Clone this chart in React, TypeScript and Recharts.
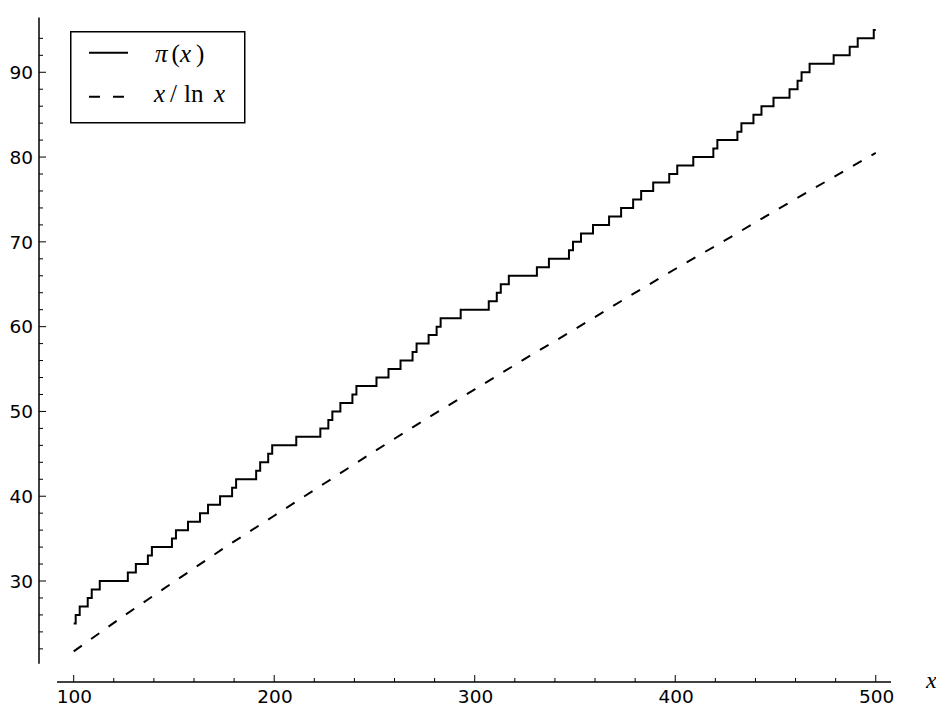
import React from "react";
import { LineChart, Line, XAxis, YAxis, ReferenceLine, Legend, Label } from "recharts";

// pi(x): value jumps at each prime between 100 and 500
const piX = [
  100, 101, 103, 107, 109, 113, 127, 131, 137, 139, 149, 151, 157, 163, 167, 173, 179, 181,
  191, 193, 197, 199, 211, 223, 227, 229, 233, 239, 241, 251, 257, 263, 269, 271, 277, 281,
  283, 293, 307, 311, 313, 317, 331, 337, 347, 349, 353, 359, 367, 373, 379, 383, 389, 397,
  401, 409, 419, 421, 431, 433, 439, 443, 449, 457, 461, 463, 467, 479, 487, 491, 499, 500,
];
const piY = [
  25, 26, 27, 28, 29, 30, 31, 32, 33, 34, 35, 36, 37, 38, 39, 40, 41, 42,
  43, 44, 45, 46, 47, 48, 49, 50, 51, 52, 53, 54, 55, 56, 57, 58, 59, 60,
  61, 62, 63, 64, 65, 66, 67, 68, 69, 70, 71, 72, 73, 74, 75, 76, 77, 78,
  79, 80, 81, 82, 83, 84, 85, 86, 87, 88, 89, 90, 91, 92, 93, 94, 95, 95,
];

// x / ln x
const lnX = [100, 125, 150, 175, 200, 225, 250, 275, 300, 325, 350, 375, 400, 425, 450, 475, 500];
const lnY = [21.7, 25.9, 29.9, 33.9, 37.7, 41.5, 45.3, 49.0, 52.6, 56.2, 59.7, 63.3, 66.8, 70.2, 73.7, 77.1, 80.5];

const xTicks = [100, 120, 140, 160, 180, 200, 220, 240, 260, 280, 300, 320, 340, 360, 380, 400, 420, 440, 460, 480, 500];
const yTicks = [22, 24, 26, 28, 30, 32, 34, 36, 38, 40, 42, 44, 46, 48, 50, 52, 54, 56, 58, 60, 62, 64, 66, 68, 70, 72, 74, 76, 78, 80, 82, 84, 86, 88, 90, 92, 94];

const xDomain = [82.7, 507.6];
const yDomain = [18.09, 96.46];
const xAxisStart = 91.7;
const yAxisEnd = 20.25;

const piData = piX.map((x, i) => ({ x, v: piY[i] }));
const lnData = lnX.map((x, i) => ({ x, v: lnY[i] }));

const tickFont = "'DejaVu Sans', sans-serif";
const mathFont = "'Liberation Serif', serif";

const YTick = (props: any) => {
  const { x, y, payload } = props;
  const major = payload.value % 10 === 0;
  return (
    <g>
      <line x1={x} x2={x + (major ? 7 : 4)} y1={y} y2={y} stroke="#000" strokeWidth={1} />
      {major && (
        <text x={x - 6} y={y} dy={6.8} textAnchor="end" fontFamily={tickFont} fontSize={18.5} fill="#000">
          {payload.value}
        </text>
      )}
    </g>
  );
};

const XTick = (props: any) => {
  const { x, y, payload } = props;
  const major = payload.value % 100 === 0;
  return (
    <g>
      <line x1={x} x2={x} y1={y} y2={y - (major ? 7 : 4)} stroke="#000" strokeWidth={1} />
      {major && (
        <text x={x + 0.8} y={y + 21} textAnchor="middle" fontFamily={tickFont} fontSize={18.5} fill="#000">
          {payload.value}
        </text>
      )}
    </g>
  );
};

const LegendBox = () => (
  <svg width={176} height={93} style={{ display: "block" }}>
    <rect x={0.75} y={0.75} width={174} height={91} fill="#fff" stroke="#000" strokeWidth={1.5} />
    <line x1={19} x2={58} y1={21.7} y2={21.7} stroke="#000" strokeWidth={2} />
    <line x1={19} x2={58} y1={65.7} y2={65.7} stroke="#000" strokeWidth={2} strokeDasharray="11 13" />
    <text y={31} fontFamily={mathFont} fontSize={25} fill="#000">
      <tspan x={85} fontStyle="italic">π</tspan>
      <tspan x={101.5}>(</tspan>
      <tspan x={110} fontStyle="italic">x</tspan>
      <tspan x={126}>)</tspan>
    </text>
    <text y={71} fontFamily={mathFont} fontSize={25} fill="#000">
      <tspan x={84} fontStyle="italic">x</tspan>
      <tspan x={100}>/</tspan>
      <tspan x={114}>ln</tspan>
      <tspan x={144} fontStyle="italic">x</tspan>
    </text>
  </svg>
);

const XLabel = (props: any) => {
  const vb = props.viewBox || { x: 39, y: 682, width: 852 };
  return (
    <text x={vb.x + vb.width + 35} y={vb.y + 5.5} fontFamily={mathFont} fontStyle="italic" fontSize={24} fill="#000">
      x
    </text>
  );
};

export default function App() {
  return (
    <div style={{ position: "absolute", left: 0, top: 0, width: 936, height: 704, background: "#fff" }}>
      <LineChart width={936} height={704} margin={{ top: 17.5, right: 45, bottom: 0, left: 0 }}>
        <XAxis
          type="number"
          dataKey="x"
          domain={xDomain}
          ticks={xTicks}
          interval={0}
          allowDataOverflow
          axisLine={false}
          tickLine={false}
          tickSize={0}
          tickMargin={0}
          height={22}
          tick={<XTick />}
        >
          <Label content={<XLabel />} />
        </XAxis>
        <YAxis
          type="number"
          dataKey="v"
          domain={yDomain}
          ticks={yTicks}
          interval={0}
          allowDataOverflow
          axisLine={false}
          tickLine={false}
          tickSize={0}
          tickMargin={0}
          width={39}
          tick={<YTick />}
        />
        <ReferenceLine
          segment={[{ x: xAxisStart, y: yDomain[0] }, { x: xDomain[1], y: yDomain[0] }]}
          stroke="#000"
          strokeWidth={1.5}
          ifOverflow="visible"
        />
        <ReferenceLine
          segment={[{ x: xDomain[0], y: yAxisEnd }, { x: xDomain[0], y: yDomain[1] }]}
          stroke="#000"
          strokeWidth={1.5}
          ifOverflow="visible"
        />
        <Line
          data={lnData}
          dataKey="v"
          type="linear"
          stroke="#000"
          strokeWidth={2}
          strokeDasharray="10 11.36"
          dot={false}
          activeDot={false}
          isAnimationActive={false}
        />
        <Line
          data={piData}
          dataKey="v"
          type="stepAfter"
          stroke="#000"
          strokeWidth={2}
          dot={false}
          activeDot={false}
          isAnimationActive={false}
        />
        <Legend
          layout="horizontal"
          verticalAlign="middle"
          align="center"
          content={<LegendBox />}
          wrapperStyle={{ position: "absolute", left: 70, top: 31, width: 176, height: 93 }}
        />
      </LineChart>
    </div>
  );
}
